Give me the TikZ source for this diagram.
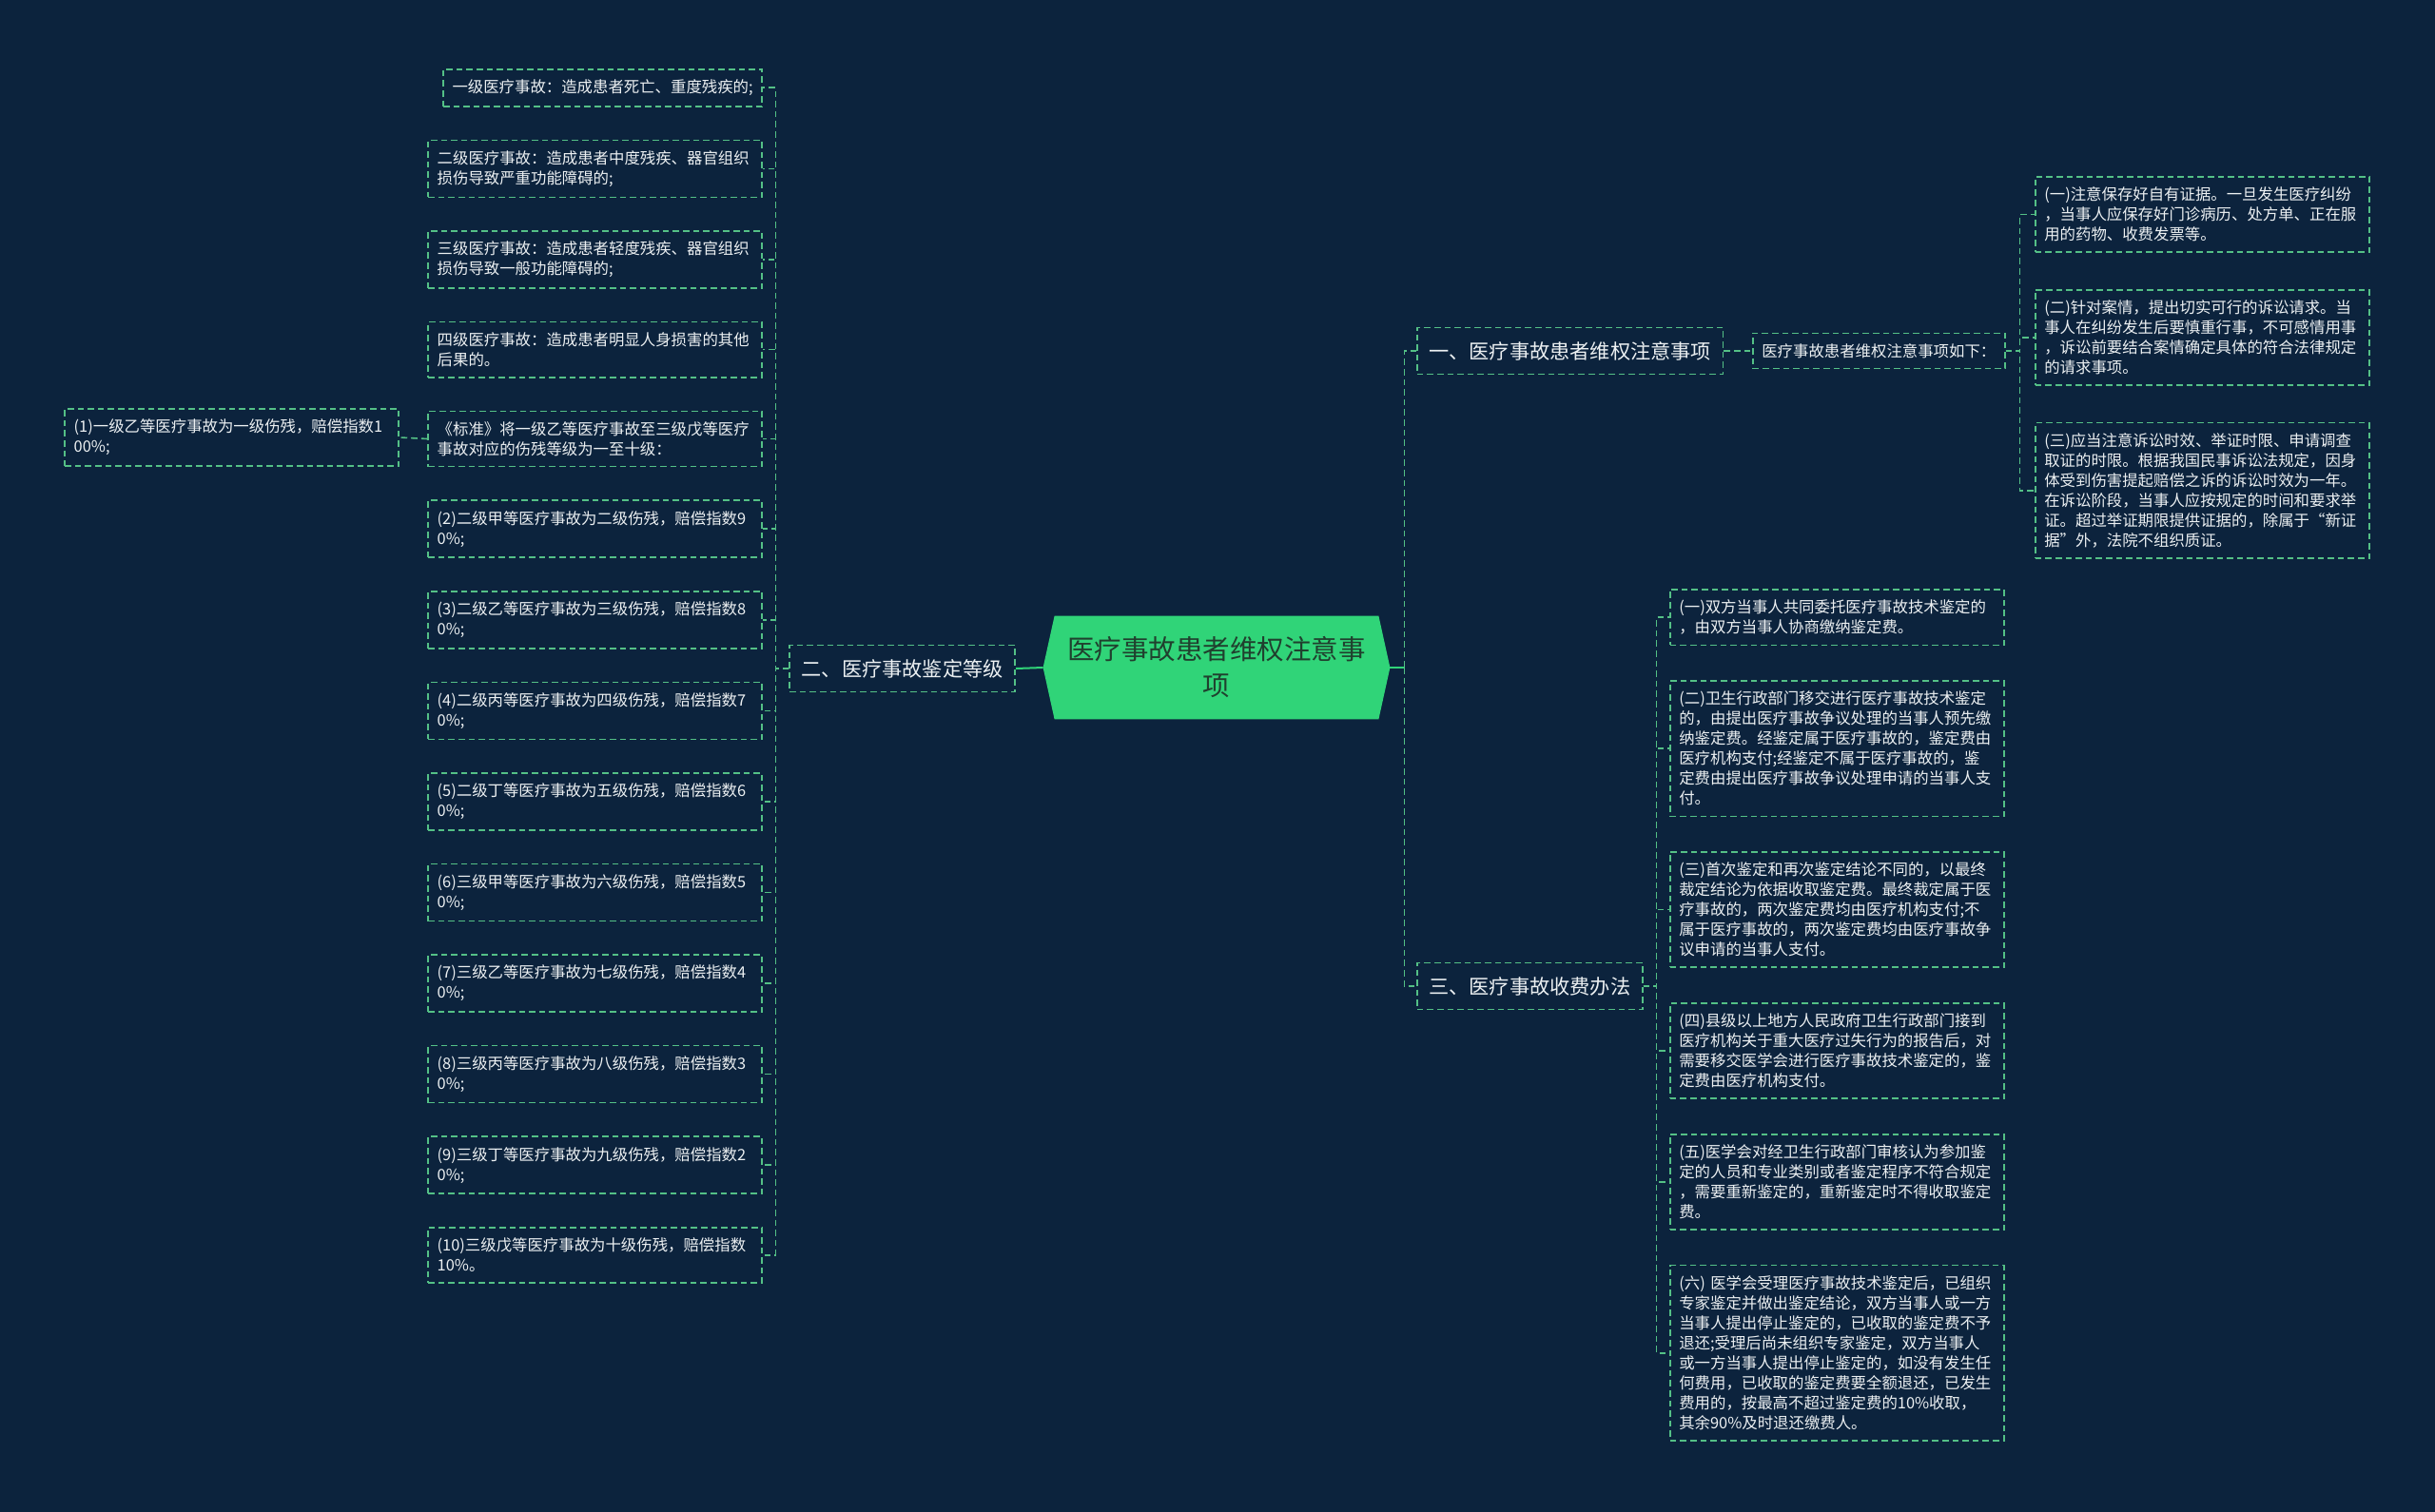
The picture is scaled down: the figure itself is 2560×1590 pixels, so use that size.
\documentclass[tikz,border=0pt]{standalone}
\usepackage{fontspec}
\setmainfont{Noto Sans CJK SC}
\usetikzlibrary{positioning, backgrounds}

\definecolor{pagebg}{RGB}{12,35,61}
\definecolor{hubgreen}{RGB}{48,212,120}
\definecolor{dashgreen}{RGB}{84,192,134}
\definecolor{hubtext}{RGB}{32,64,46}
\definecolor{leaftext}{RGB}{236,240,242}

\begin{document}
\begin{tikzpicture}[
    x=0.5pt, y=-0.5pt,
    hub/.style={rectangle, align=center, text=hubtext, font=\fontsize{14.25pt}{19pt}\selectfont, minimum width=170pt, minimum height=54pt, inner sep=0pt},
    sect/.style={rectangle, draw=dashgreen, dash pattern=on 3.3pt off 2pt, line width=0.8pt, text=leaftext, font=\fontsize{10.6pt}{13pt}\selectfont, inner xsep=6.25pt, inner ysep=5pt, minimum height=24.5pt},
    leaf/.style={rectangle, draw=dashgreen, dash pattern=on 3.3pt off 2pt, line width=0.8pt, text=leaftext, font=\fontsize{8.2pt}{10.5pt}\selectfont, align=left, inner xsep=4.75pt, inner ysep=5.5pt, minimum height=18.5pt},
    wide/.style={leaf, text width=166pt},
    link/.style={draw=dashgreen, dash pattern=on 3.3pt off 2pt, line width=0.8pt},
    hubline/.style={draw=hubgreen, line width=1pt}
]

% centre topic
\node[hub] (hub) at (1279,702) {医疗事故患者维权注意事\\项};
\coordinate (hubL) at ([xshift=-6pt]hub.west);
\coordinate (hubR) at ([xshift=6pt]hub.east);
\begin{scope}[on background layer]
\fill[pagebg] (0,0) rectangle (2560,1590);
\fill[hubgreen] (hubL) -- (hub.north west) -- (hub.north east) -- (hubR) -- (hub.south east) -- (hub.south west) -- cycle;
\end{scope}

% main branches
\node[sect, anchor=east] (grade) at (1068,703) {二、医疗事故鉴定等级};
\node[sect, anchor=west] (rights) at (1489,369) {一、医疗事故患者维权注意事项};
\node[sect, anchor=west] (fees) at (1489,1037) {三、医疗事故收费办法};
\node[leaf, anchor=west] (intro) at (1842,369) {医疗事故患者维权注意事项如下：};

% left: grades
\node[leaf, anchor=north east] (lv1) at (802,72) {一级医疗事故：造成患者死亡、重度残疾的;};
\node[wide, below=17pt of lv1.south east, anchor=north east] (lv2) {二级医疗事故：造成患者中度残疾、器官组织\\损伤导致严重功能障碍的;};
\node[wide, below=17pt of lv2.south east, anchor=north east] (lv3) {三级医疗事故：造成患者轻度残疾、器官组织\\损伤导致一般功能障碍的;};
\node[wide, below=17pt of lv3.south east, anchor=north east] (lv4) {四级医疗事故：造成患者明显人身损害的其他\\后果的。};
\node[wide, below=17pt of lv4.south east, anchor=north east] (lv5) {《标准》将一级乙等医疗事故至三级戊等医疗\\事故对应的伤残等级为一至十级：};
\node[wide, below=17pt of lv5.south east, anchor=north east] (idx2) {(2)二级甲等医疗事故为二级伤残，赔偿指数9\\0\%;};
\node[wide, below=17pt of idx2.south east, anchor=north east] (idx3) {(3)二级乙等医疗事故为三级伤残，赔偿指数8\\0\%;};
\node[wide, below=17pt of idx3.south east, anchor=north east] (idx4) {(4)二级丙等医疗事故为四级伤残，赔偿指数7\\0\%;};
\node[wide, below=17pt of idx4.south east, anchor=north east] (idx5) {(5)二级丁等医疗事故为五级伤残，赔偿指数6\\0\%;};
\node[wide, below=17pt of idx5.south east, anchor=north east] (idx6) {(6)三级甲等医疗事故为六级伤残，赔偿指数5\\0\%;};
\node[wide, below=17pt of idx6.south east, anchor=north east] (idx7) {(7)三级乙等医疗事故为七级伤残，赔偿指数4\\0\%;};
\node[wide, below=17pt of idx7.south east, anchor=north east] (idx8) {(8)三级丙等医疗事故为八级伤残，赔偿指数3\\0\%;};
\node[wide, below=17pt of idx8.south east, anchor=north east] (idx9) {(9)三级丁等医疗事故为九级伤残，赔偿指数2\\0\%;};
\node[wide, below=17pt of idx9.south east, anchor=north east] (idx10) {(10)三级戊等医疗事故为十级伤残，赔偿指数\\10\%。};
\node[wide, anchor=east] (idx1) at (420,460) {(1)一级乙等医疗事故为一级伤残，赔偿指数1\\00\%;};

% right: rights
\node[wide, anchor=north west] (ra1) at (2139,185) {(一)注意保存好自有证据。一旦发生医疗纠纷\\，当事人应保存好门诊病历、处方单、正在服\\用的药物、收费发票等。};
\node[wide, below=19pt of ra1.south west, anchor=north west] (ra2) {(二)针对案情，提出切实可行的诉讼请求。当\\事人在纠纷发生后要慎重行事，不可感情用事\\，诉讼前要结合案情确定具体的符合法律规定\\的请求事项。};
\node[wide, below=19pt of ra2.south west, anchor=north west] (ra3) {(三)应当注意诉讼时效、举证时限、申请调查\\取证的时限。根据我国民事诉讼法规定，因身\\体受到伤害提起赔偿之诉的诉讼时效为一年。\\在诉讼阶段，当事人应按规定的时间和要求举\\证。超过举证期限提供证据的，除属于“新证\\据”外，法院不组织质证。};

% right: fees
\node[wide, anchor=north west] (rb1) at (1755,619) {(一)双方当事人共同委托医疗事故技术鉴定的\\，由双方当事人协商缴纳鉴定费。};
\node[wide, below=18pt of rb1.south west, anchor=north west] (rb2) {(二)卫生行政部门移交进行医疗事故技术鉴定\\的，由提出医疗事故争议处理的当事人预先缴\\纳鉴定费。经鉴定属于医疗事故的，鉴定费由\\医疗机构支付;经鉴定不属于医疗事故的，鉴\\定费由提出医疗事故争议处理申请的当事人支\\付。};
\node[wide, below=18pt of rb2.south west, anchor=north west] (rb3) {(三)首次鉴定和再次鉴定结论不同的，以最终\\裁定结论为依据收取鉴定费。最终裁定属于医\\疗事故的，两次鉴定费均由医疗机构支付;不\\属于医疗事故的，两次鉴定费均由医疗事故争\\议申请的当事人支付。};
\node[wide, below=18pt of rb3.south west, anchor=north west] (rb4) {(四)县级以上地方人民政府卫生行政部门接到\\医疗机构关于重大医疗过失行为的报告后，对\\需要移交医学会进行医疗事故技术鉴定的，鉴\\定费由医疗机构支付。};
\node[wide, below=18pt of rb4.south west, anchor=north west] (rb5) {(五)医学会对经卫生行政部门审核认为参加鉴\\定的人员和专业类别或者鉴定程序不符合规定\\，需要重新鉴定的，重新鉴定时不得收取鉴定\\费。};
\node[wide, below=18pt of rb5.south west, anchor=north west] (rb6) {(六) 医学会受理医疗事故技术鉴定后，已组织\\专家鉴定并做出鉴定结论，双方当事人或一方\\当事人提出停止鉴定的，已收取的鉴定费不予\\退还;受理后尚未组织专家鉴定，双方当事人\\或一方当事人提出停止鉴定的，如没有发生任\\何费用，已收取的鉴定费要全额退还，已发生\\费用的，按最高不超过鉴定费的10\%收取，\\其余90\%及时退还缴费人。};

% connectors
\draw[hubline] (hubL) -- (grade.east);
\draw[link] (grade.west) -- ++(-14,0) |- (lv1.east);
\draw[link] (grade.west) -- ++(-14,0) |- (lv2.east);
\draw[link] (grade.west) -- ++(-14,0) |- (lv3.east);
\draw[link] (grade.west) -- ++(-14,0) |- (lv4.east);
\draw[link] (grade.west) -- ++(-14,0) |- (lv5.east);
\draw[link] (grade.west) -- ++(-14,0) |- (idx2.east);
\draw[link] (grade.west) -- ++(-14,0) |- (idx3.east);
\draw[link] (grade.west) -- ++(-14,0) |- (idx4.east);
\draw[link] (grade.west) -- ++(-14,0) |- (idx5.east);
\draw[link] (grade.west) -- ++(-14,0) |- (idx6.east);
\draw[link] (grade.west) -- ++(-14,0) |- (idx7.east);
\draw[link] (grade.west) -- ++(-14,0) |- (idx8.east);
\draw[link] (grade.west) -- ++(-14,0) |- (idx9.east);
\draw[link] (grade.west) -- ++(-14,0) |- (idx10.east);
\draw[link] (lv5.west) -- (idx1.east);

\draw[hubline] (hubR) -- ++(15,0) coordinate (rjoint);
\draw[link] (rjoint) |- (rights.west);
\draw[link] (rjoint) |- (fees.west);

\draw[link] (rights.east) -- (intro.west);
\draw[link] (intro.east) -- ++(15,0) |- (ra1.west);
\draw[link] (intro.east) -- ++(15,0) |- (ra2.west);
\draw[link] (intro.east) -- ++(15,0) |- (ra3.west);

\draw[link] (fees.east) -- ++(14,0) |- (rb1.west);
\draw[link] (fees.east) -- ++(14,0) |- (rb2.west);
\draw[link] (fees.east) -- ++(14,0) |- (rb3.west);
\draw[link] (fees.east) -- ++(14,0) |- (rb4.west);
\draw[link] (fees.east) -- ++(14,0) |- (rb5.west);
\draw[link] (fees.east) -- ++(14,0) |- (rb6.west);
\end{tikzpicture}
\end{document}
